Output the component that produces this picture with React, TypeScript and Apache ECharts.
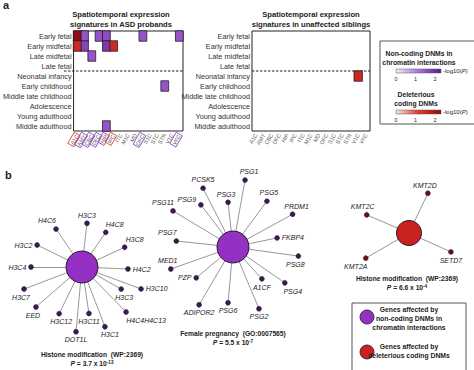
import React, { useEffect, useRef } from 'react';
import * as echarts from 'echarts';

// ---------- DATA ----------
const regions = ['A1C', 'AMY', 'CBC', 'DFC', 'HIP', 'IPC', 'ITC', 'M1C', 'MD', 'OFC', 'S1C', 'STC', 'STR', 'V1C', 'VFC'];
const stages = ['Early fetal', 'Early midfetal', 'Late midfetal', 'Late fetal', 'Neonatal infancy', 'Early childhood', 'Middle late childhood', 'Adolescence', 'Young adulthood', 'Middle adulthood'];

// [regionIndex, stageIndex, -log10(P)]
const probandNonCoding = [[1, 0, 1.5], [3, 0, 1.5], [4, 0, 1.6], [9, 0, 1.5], [14, 0, 1.5], [1, 1, 1.7], [4, 1, 1.85], [2, 2, 1.5], [12, 5, 1.5], [4, 9, 1.5]];
const probandCoding = [[0, 0, 2.3], [0, 1, 1.5], [5, 1, 1.5]];
const siblingCoding = [[13, 4, 1.5]];
const legendTicks = [0, 1, 2];

// x-axis label highlighting in proband panel
const probandRedLabels = ['A1C', 'IPC'];
const probandPurpleLabels = ['AMY', 'CBC', 'DFC', 'HIP', 'OFC', 'VFC'];

// Network 1: Histone modification (non-coding)
const histoneGenes = ['H3C3', 'H4C6', 'H4C8', 'H3C2', 'H3C8', 'H3C4', 'H4C2', 'H3C7', 'EED', 'H3C12', 'H3C11', 'DOT1L', 'H3C1', 'H3C3', 'H3C10', 'H4C4H4C13'];
const histoneAngle = [83.5, 124.4, 55.6, 153.9, 24.9, 180, 357.5, 200.8, 221, 243.9, 278.5, 264.7, 291, 330.6, 339.6, 314.4];
const histoneDist = [44, 46, 42, 50, 47, 51, 46, 62, 61, 52, 47, 65, 64, 45, 63, 63];

// Network 2: Female pregnancy
const pregGenes = ['PSG1', 'PCSK5', 'PSG3', 'PSG5', 'PSG9', 'PRDM1', 'PSG11', 'FKBP4', 'PSG7', 'PSG8', 'MED1', 'PZP', 'A1CF', 'PSG4', 'ADIPOR2', 'PSG6', 'PSG2'];
const pregAngle = [79.8, 117, 96.3, 53.5, 127.3, 28.8, 149, 11.6, 174, 352.1, 199.5, 220, 312.2, 325.3, 239.6, 264.9, 292.8];
const pregDist = [68, 66, 45, 57, 53, 68, 70, 45, 57, 66, 66, 48, 43, 63, 67, 56, 67];

// Network 3: Histone modification (coding)
const codingGenes = ['KMT2D', 'KMT2C', 'KMT2A', 'SETD7'];
const codingAngle = [64.6, 156.8, 210.2, 335.7];
const codingDist = [44, 46, 50, 46];

// ---------- STYLE / LAYOUT ----------
const FONT = '"Liberation Sans", Arial, Helvetica, sans-serif';
const purpleRamp = ['#f5ebfb', '#b070e0', '#5a1590'];
const redRamp = ['#fbe6e1', '#e8352a', '#8a1010'];
const VMAX = 2.3;
const G1 = { left: 64, top: 31, width: 119, height: 100 };
const G2 = { left: 252, top: 31, width: 118, height: 100 };

type Place = [string, number, number];
const histonePlace: Place[] = [['top', 0, 0], ['top', -9, 0], ['top', 9, 0], ['left', 0, 0], ['top', 10, 0], ['left', 0, 0], ['right', 0, 0], ['bottom', -3, 0], ['bottom', -3, 0], ['bottom', 2, 0], ['bottom', 0, 0], ['bottom', 0, 0], ['bottom', 5, 0], ['bottom', 3, 0], ['right', 0, 0], ['bottom', 20, 0]];
const pregPlace: Place[] = [['top', 4, 0], ['top', 0, 0], ['top', -2, 0], ['top', 2, 0], ['left', 0, -5], ['top', 4, 0], ['top', -10, 0], ['right', 0, 0], ['top', -9, 0], ['bottom', -3, 0], ['top', -3, 0], ['left', 0, 0], ['bottom', 0, 0], ['bottom', 8, 0], ['bottom', 0, 0], ['bottom', 0, 0], ['bottom', 0, 0]];
const codingPlace: Place[] = [['top', -3, 0], ['top', -4, 0], ['bottom', -10, 0], ['bottom', 0, 0]];

function network(genes: string[], angles: number[], dists: number[], place: Place[], polarIndex: number, hubColor: string, leafColor: string, hubSize: number) {
  const nodes: any[] = [{ id: 'hub', name: 'hub', value: [0, 0], symbolSize: hubSize, itemStyle: { color: hubColor, borderColor: '#2a1a2a', borderWidth: 1 }, label: { show: false } }];
  genes.forEach((g, i) => {
    const [pos, dx, dy] = place[i];
    nodes.push({ id: 'n' + i, name: g, value: [dists[i], angles[i]], symbolSize: 5, itemStyle: { color: leafColor, borderColor: '#1a0a1a', borderWidth: 0.4 }, label: { show: true, position: pos, offset: [dx, dy], formatter: g } });
  });
  const links = genes.map((_, i) => ({ source: 'hub', target: 'n' + i }));
  return {
    type: 'graph', coordinateSystem: 'polar', polarIndex, layout: 'none', data: nodes, links, silent: true,
    lineStyle: { color: '#8c8c8c', width: 0.9, opacity: 1 },
    label: { fontSize: 7, fontStyle: 'italic', color: '#222', distance: 2, fontFamily: FONT },
    emphasis: { disabled: true }, z: 5,
  };
}

function txt(x: number, y: number, text: string, size: number, opts: any = {}) {
  return {
    type: 'text', x, y, silent: true,
    style: { text, fontSize: size, fontFamily: FONT, fontWeight: opts.weight || 'bold', fontStyle: opts.style || 'normal', fill: opts.fill || '#222', textAlign: opts.align || 'center', textVerticalAlign: 'middle', rich: opts.rich },
  };
}

function pLine(x: number, y: number, mant: string, exp: string) {
  return txt(x, y, '{i|P} = ' + mant + ' x 10{s|' + exp + '}', 6.7, {
    rich: {
      i: { fontStyle: 'italic', fontWeight: 'bold', fontSize: 6.7, fontFamily: FONT, fill: '#222' },
      s: { fontSize: 4.6, fontWeight: 'bold', verticalAlign: 'top', fontFamily: FONT, fill: '#222' },
    },
  });
}

function gradBar(x: number, y: number, ramp: string[]) {
  const w = 45;
  const els: any[] = [{
    type: 'rect', silent: true, shape: { x, y, width: w, height: 4 },
    style: { fill: new echarts.graphic.LinearGradient(0, 0, 1, 0, ramp.map((c, i) => ({ offset: i / (ramp.length - 1), color: c }))), stroke: '#555', lineWidth: 0.5 },
  }];
  els.push(txt(x + w + 2, y + 2, '{a|-log10(}{i|P}{a|)}', 6, {
    weight: 'normal', align: 'left',
    rich: { a: { fontSize: 6, fontFamily: FONT, fill: '#222' }, i: { fontSize: 6, fontStyle: 'italic', fontFamily: FONT, fill: '#222' } },
  }));
  legendTicks.forEach((v) => els.push(txt(x + (v / VMAX) * w, y + 10, String(v), 5.5, { weight: 'normal' })));
  return els;
}

function axisLabelFmt(v: string) {
  if (probandRedLabels.includes(v)) return '{r|' + v + '}';
  if (probandPurpleLabels.includes(v)) return '{p|' + v + '}';
  return v;
}

export default function App() {
  const ref = useRef<HTMLDivElement>(null);
  useEffect(() => {
    if (!ref.current) return;
    const chart = echarts.init(ref.current, null, { renderer: 'svg' });
    const rowH = G1.height / stages.length;
    const yAxisBase = { type: 'category', data: stages, inverse: true, axisLine: { show: false }, axisTick: { show: false }, splitLine: { show: false }, axisLabel: { fontSize: 7.3, color: '#333', margin: 2, fontFamily: FONT } };
    const xAxisBase = { type: 'category', data: regions, axisLine: { show: false }, axisTick: { show: false }, splitLine: { show: false } };
    const xLabel = { rotate: 60, fontSize: 5.5, color: '#555', interval: 0, margin: 3, fontFamily: FONT };
    const cellStyle = { borderColor: '#2b1b2b', borderWidth: 0.8 };

    const option: any = {
      animation: false,
      backgroundColor: '#fff',
      textStyle: { fontFamily: FONT },
      grid: [
        { ...G1, show: true, borderColor: '#222', borderWidth: 1, backgroundColor: '#fff' },
        { ...G2, show: true, borderColor: '#222', borderWidth: 1, backgroundColor: '#fff' },
      ],
      xAxis: [
        { ...xAxisBase, gridIndex: 0, axisLabel: { ...xLabel, formatter: axisLabelFmt, rich: {
          r: { borderColor: '#e0402e', borderWidth: 0.8, padding: [1, 1, 0, 1], fontSize: 5.5, color: '#555', fontFamily: FONT },
          p: { borderColor: '#8a3fd0', borderWidth: 0.8, padding: [1, 1, 0, 1], fontSize: 5.5, color: '#555', fontFamily: FONT },
        } } },
        { ...xAxisBase, gridIndex: 1, axisLabel: { ...xLabel } },
      ],
      yAxis: [
        { ...yAxisBase, gridIndex: 0 },
        { ...yAxisBase, gridIndex: 1 },
      ],
      polar: [
        { center: [82, 267], radius: 70 },
        { center: [233, 247], radius: 70 },
        { center: [409, 233], radius: 70 },
      ],
      angleAxis: [0, 1, 2].map((i) => ({ polarIndex: i, type: 'value', min: 0, max: 360, startAngle: 0, clockwise: false, show: false, axisLine: { show: false }, splitLine: { show: false }, axisLabel: { show: false }, axisTick: { show: false } })),
      radiusAxis: [0, 1, 2].map((i) => ({ polarIndex: i, type: 'value', min: 0, max: 70, show: false, axisLine: { show: false }, splitLine: { show: false }, axisLabel: { show: false }, axisTick: { show: false } })),
      visualMap: [
        { type: 'continuous', show: false, seriesIndex: 0, min: 0, max: VMAX, inRange: { color: purpleRamp } },
        { type: 'continuous', show: false, seriesIndex: [1, 2], min: 0, max: VMAX, inRange: { color: redRamp } },
      ],
      series: [
        { type: 'heatmap', xAxisIndex: 0, yAxisIndex: 0, data: probandNonCoding, itemStyle: cellStyle, silent: true },
        { type: 'heatmap', xAxisIndex: 0, yAxisIndex: 0, data: probandCoding, itemStyle: cellStyle, silent: true },
        { type: 'heatmap', xAxisIndex: 1, yAxisIndex: 1, data: siblingCoding, itemStyle: cellStyle, silent: true },
        network(histoneGenes, histoneAngle, histoneDist, histonePlace, 0, '#9431c4', '#3d1852', 32),
        network(pregGenes, pregAngle, pregDist, pregPlace, 1, '#9431c4', '#3d1852', 32),
        network(codingGenes, codingAngle, codingDist, codingPlace, 2, '#c9221f', '#6e1010', 25),
      ],
      graphic: [
        txt(3, 5, 'a', 11, { align: 'left' }),
        txt(5, 175, 'b', 11, { align: 'left' }),
        txt(121, 14, 'Spatiotemporal expression', 7.6),
        txt(121, 24, 'signatures in ASD probands', 7.6),
        txt(311, 14, 'Spatiotemporal expression', 7.6),
        txt(311, 24, 'signatures in unaffected siblings', 7.6),
        { type: 'line', silent: true, shape: { x1: G1.left, y1: G1.top + 4 * rowH, x2: G1.left + G1.width, y2: G1.top + 4 * rowH }, style: { stroke: '#222', lineWidth: 1, lineDash: [2.5, 1.5] } },
        { type: 'line', silent: true, shape: { x1: G2.left, y1: G2.top + 4 * rowH, x2: G2.left + G2.width, y2: G2.top + 4 * rowH }, style: { stroke: '#222', lineWidth: 1, lineDash: [2.5, 1.5] } },
        // top-right legend
        { type: 'rect', silent: true, shape: { x: 380, y: 41, width: 100, height: 83 }, style: { fill: '#fff', stroke: '#555', lineWidth: 1 } },
        txt(419, 53, 'Non-coding DNMs in', 6.8),
        txt(419, 62, 'chromatin interactions', 6.8),
        ...gradBar(396, 69, purpleRamp),
        txt(416, 94, 'Deleterious', 6.8),
        txt(416, 103, 'coding DNMs', 6.8),
        ...gradBar(396, 110, redRamp),
        // captions
        txt(92, 354, 'Histone modification  (WP:2369)', 6.7),
        pLine(92, 363, '3.7', '-13'),
        txt(233, 333, 'Female pregnancy  (GO:0007565)', 6.7),
        pLine(233, 342, '5.5', '-7'),
        txt(407, 278, 'Histone modification  (WP:2369)', 6.7),
        pLine(407, 287, '6.6', '-4'),
        // bottom legend
        { type: 'rect', silent: true, shape: { x: 352, y: 303, width: 114, height: 75 }, style: { fill: '#fff', stroke: '#555', lineWidth: 1 } },
        { type: 'circle', silent: true, shape: { cx: 367, cy: 317, r: 7 }, style: { fill: '#9431c4', stroke: '#2a1a2a', lineWidth: 0.8 } },
        { type: 'circle', silent: true, shape: { cx: 367, cy: 352, r: 7 }, style: { fill: '#c9221f', stroke: '#2a1a2a', lineWidth: 0.8 } },
        txt(409, 309, 'Genes affected by', 6.8),
        txt(409, 318, 'non-coding DNMs in', 6.8),
        txt(409, 327, 'chromatin interactions', 6.8),
        txt(409, 346, 'Genes affected by', 6.8),
        txt(409, 355, 'deleterious coding DNMs', 6.8),
      ],
    };
    chart.setOption(option);
    return () => chart.dispose();
  }, []);
  return <div ref={ref} style={{ position: 'absolute', left: 0, top: 0, width: 474, height: 370, background: '#fff' }} />;
}
